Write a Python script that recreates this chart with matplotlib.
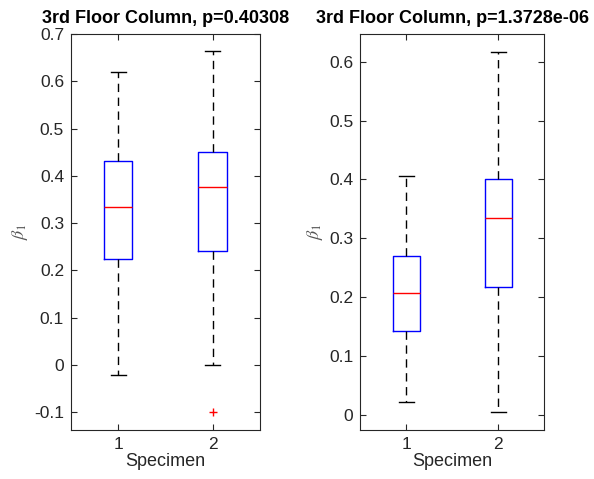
import matplotlib
matplotlib.use("Agg")
import matplotlib.pyplot as plt

plt.rcParams['font.family'] = ['Liberation Sans', 'DejaVu Sans']
plt.rcParams['mathtext.fontset'] = 'stix'

specimens = [1, 2]
titles = ["3rd Floor Column, p=0.40308", "3rd Floor Column, p=1.3728e-06"]

# left panel stats: whislo, q1, med, q3, whishi
left_whislo = [-0.021, 0.0]
left_q1 = [0.224, 0.240]
left_med = [0.334, 0.376]
left_q3 = [0.431, 0.450]
left_whishi = [0.620, 0.665]
left_fliers = [[], [-0.100]]

right_whislo = [0.0215, 0.0046]
right_q1 = [0.142, 0.218]
right_med = [0.208, 0.334]
right_q3 = [0.270, 0.401]
right_whishi = [0.406, 0.616]
right_fliers = [[], []]

left_yticks = [-0.1, 0, 0.1, 0.2, 0.3, 0.4, 0.5, 0.6, 0.7]
right_yticks = [0, 0.1, 0.2, 0.3, 0.4, 0.5, 0.6]


def make_stats(lo, q1, med, q3, hi, fl):
    return [dict(whislo=lo[i], q1=q1[i], med=med[i], q3=q3[i], whishi=hi[i],
                 fliers=fl[i], label=str(specimens[i])) for i in range(len(lo))]


fig = plt.figure(figsize=(5.94, 4.79), dpi=100)
ax1 = fig.add_axes([0.1195, 0.1023, 0.318, 0.8267])
ax2 = fig.add_axes([0.6066, 0.1023, 0.3098, 0.8267])

panels = [
    (ax1, make_stats(left_whislo, left_q1, left_med, left_q3, left_whishi, left_fliers),
     (-0.138, 0.7), left_yticks, titles[0]),
    (ax2, make_stats(right_whislo, right_q1, right_med, right_q3, right_whishi, right_fliers),
     (-0.0255, 0.647), right_yticks, titles[1]),
]

tc = '#262626'
for ax, stats, ylim, yt, title in panels:
    ax.bxp(stats, positions=specimens, widths=0.3, capwidths=0.16,
           boxprops=dict(color='blue', linewidth=1.0),
           medianprops=dict(color='red', linewidth=1.0),
           whiskerprops=dict(color='black', linestyle=(0, (6, 4)), linewidth=1.0),
           capprops=dict(color='black', linewidth=1.0),
           flierprops=dict(marker='+', markeredgecolor='red', markersize=6, linestyle='none'))
    ax.set_xlim(0.5, 2.5)
    ax.set_ylim(*ylim)
    ax.set_yticks(yt)
    ax.set_yticklabels([f"{v:g}" for v in yt])
    ax.set_xticks(specimens)
    ax.set_xticklabels([str(s) for s in specimens])
    ax.tick_params(direction='in', top=True, right=True, labelsize=12.5, colors=tc,
                   length=4, width=0.8, pad=5)
    for sp in ax.spines.values():
        sp.set_color(tc)
        sp.set_linewidth(0.8)
    ax.set_xlabel("Specimen", fontsize=13, color=tc, labelpad=1)
    ax.set_ylabel(r"$\beta_1$", fontsize=13, color='#555555', labelpad=3)
    ax.set_title(title, fontsize=13, fontweight='bold', pad=8)

fig.savefig("out.png", dpi=100)
